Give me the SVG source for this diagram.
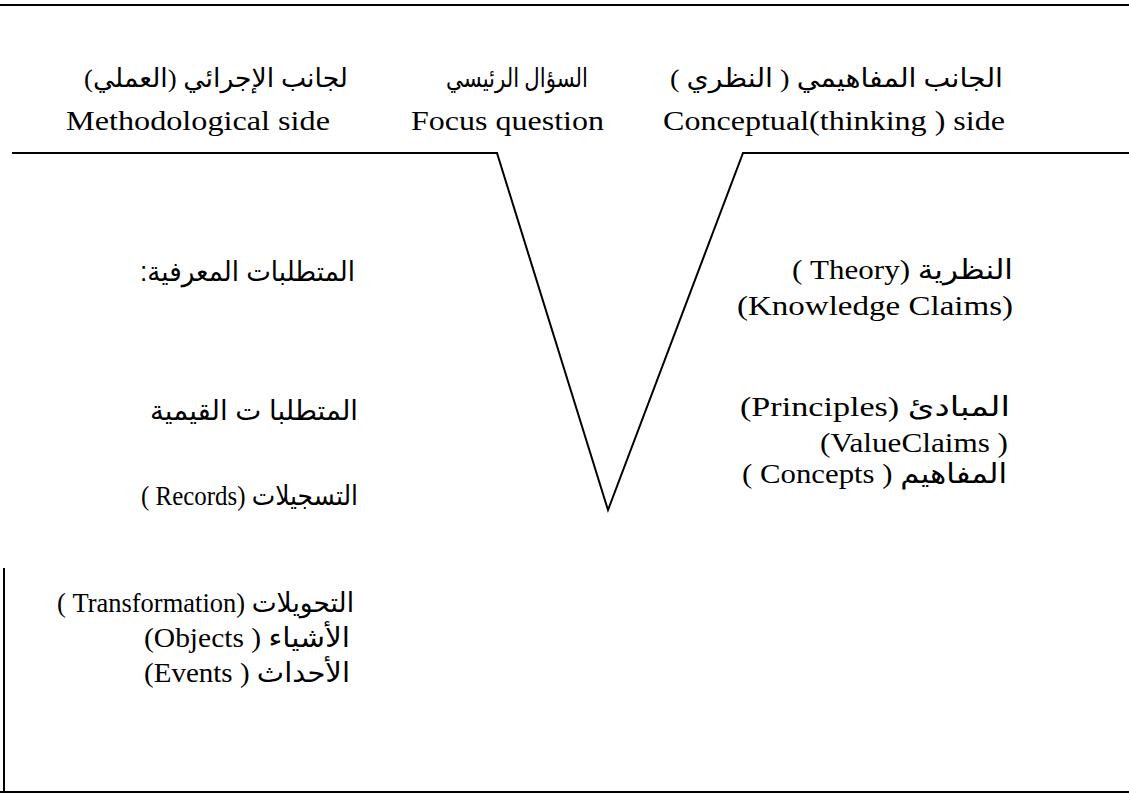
<svg xmlns="http://www.w3.org/2000/svg" width="1129" height="794" viewBox="0 0 1129 794">
<style>
.ln{stroke:#000;stroke-width:2;fill:none}
.en{font-family:"Liberation Serif","DejaVu Serif",serif;font-size:27px;fill:#000}
.hd{font-family:"Liberation Serif","DejaVu Sans",serif;font-size:26px;fill:#000}
.ar{font-family:"Liberation Sans","DejaVu Sans",sans-serif;font-size:27px;fill:#000}
.mx{font-family:"Liberation Serif","DejaVu Sans",serif;font-size:27px;fill:#000}
</style>
<rect width="1129" height="794" fill="#fff"/>
<g id="connectors">
<line class="ln" x1="0" y1="5" x2="1129" y2="5"/>
<polyline class="ln" points="12,153 497,153 608,510 743,153 1129,153"/>
<line class="ln" x1="4" y1="568" x2="4" y2="792"/>
<line class="ln" x1="0" y1="792" x2="1129" y2="792"/>
</g>
<g id="header-left">
<text class="hd" x="348" y="87" direction="rtl" text-anchor="start" textLength="264" lengthAdjust="spacingAndGlyphs">لجانب  الإجرائي (العملي)</text>
<text class="en" x="66" y="130" textLength="264" lengthAdjust="spacingAndGlyphs">Methodological side</text>
</g>
<g id="header-mid">
<text class="hd" x="588" y="87" direction="rtl" text-anchor="start" textLength="142" lengthAdjust="spacingAndGlyphs">السؤال الرئيسي</text>
<text class="en" x="411" y="130" textLength="193" lengthAdjust="spacingAndGlyphs">Focus question</text>
</g>
<g id="header-right">
<text class="hd" x="1003" y="87" direction="rtl" text-anchor="start" textLength="333" lengthAdjust="spacingAndGlyphs">الجانب المفاهيمي ( النظري )</text>
<text class="en" x="663" y="130" textLength="342" lengthAdjust="spacingAndGlyphs">Conceptual(thinking ) side</text>
</g>
<g id="left-1"><text class="ar" x="355" y="281" direction="rtl" text-anchor="start" textLength="215" lengthAdjust="spacingAndGlyphs">المتطلبات المعرفية:</text></g>
<g id="left-2"><text class="ar" x="358" y="420" direction="rtl" text-anchor="start" textLength="208" lengthAdjust="spacingAndGlyphs">المتطلبا ت القيمية</text></g>
<g id="left-3"><text class="mx" x="358" y="505" direction="rtl" text-anchor="start" textLength="217" lengthAdjust="spacingAndGlyphs">التسجيلات (Records  )</text></g>
<g id="left-4">
<text class="mx" x="354" y="612" direction="rtl" text-anchor="start" textLength="297" lengthAdjust="spacingAndGlyphs">التحويلات  (Transformation )</text>
<text class="mx" x="350" y="647" direction="rtl" text-anchor="start" textLength="206" lengthAdjust="spacingAndGlyphs">الأشياء ( Objects)</text>
<text class="mx" x="350" y="682" direction="rtl" text-anchor="start" textLength="206" lengthAdjust="spacingAndGlyphs">الأحداث ( Events)</text>
</g>
<g id="right-1">
<text class="mx" x="1013" y="279" direction="rtl" text-anchor="start" textLength="221" lengthAdjust="spacingAndGlyphs">النظرية (Theory )</text>
<text class="en" x="737" y="315" textLength="276" lengthAdjust="spacingAndGlyphs">(Knowledge Claims)</text>
</g>
<g id="right-2">
<text class="mx" x="1010" y="416" direction="rtl" text-anchor="start" textLength="270" lengthAdjust="spacingAndGlyphs"> المبادئ (Principles)</text>
<text class="en" x="820" y="452" textLength="188" lengthAdjust="spacingAndGlyphs">(ValueClaims )</text>
<text class="mx" x="1007" y="483" direction="rtl" text-anchor="start" textLength="265" lengthAdjust="spacingAndGlyphs">المفاهيم ( Concepts )</text>
</g>
</svg>
